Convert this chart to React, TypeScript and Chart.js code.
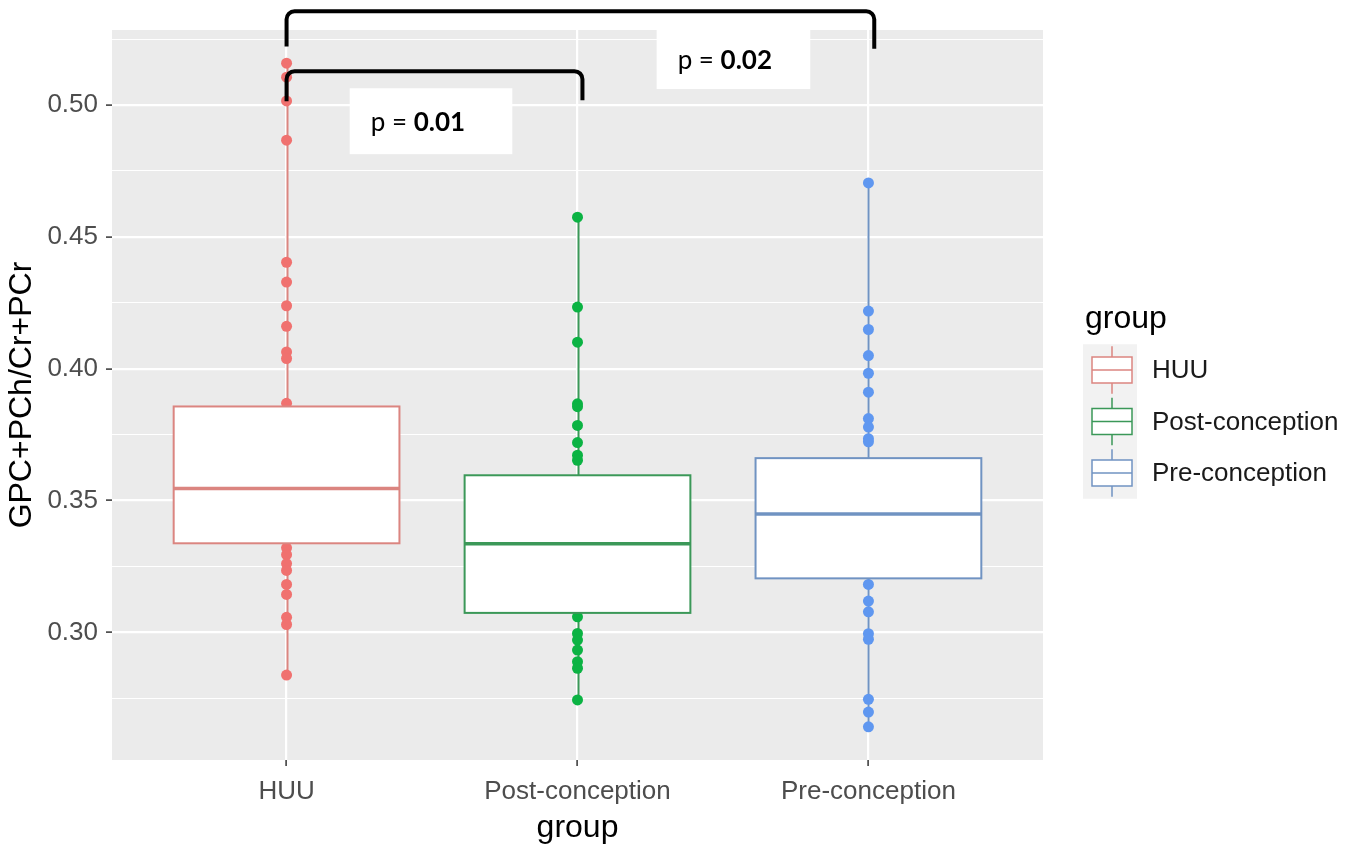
import React, { useEffect, useRef } from 'react';
import { Chart, registerables } from 'chart.js';

Chart.register(...registerables);

const categories = ['HUU', 'Post-conception', 'Pre-conception'];

const huuPoints = [0.5159, 0.5106, 0.5016, 0.4867, 0.4404, 0.4329, 0.4239, 0.4161, 0.4064, 0.4039, 0.3869, 0.3321, 0.3295, 0.3261, 0.3235, 0.3182, 0.3144, 0.3057, 0.3030, 0.2838];
const postPoints = [0.4575, 0.4234, 0.4101, 0.3867, 0.3856, 0.3785, 0.3720, 0.3672, 0.3653, 0.3059, 0.2996, 0.2971, 0.2933, 0.2889, 0.2864, 0.2744];
const prePoints = [0.4705, 0.4219, 0.4149, 0.4050, 0.3983, 0.3911, 0.3811, 0.3779, 0.3735, 0.3723, 0.3182, 0.3119, 0.3078, 0.2995, 0.2974, 0.2746, 0.2698, 0.2642];
const seriesPoints = [huuPoints, postPoints, prePoints];

const q1Values = [0.3338, 0.3074, 0.3205];
const medianValues = [0.3546, 0.3336, 0.3449];
const q3Values = [0.3857, 0.3596, 0.3661];

const yMajorTicks = [0.30, 0.35, 0.40, 0.45, 0.50];
const yMinorTicks = [0.275, 0.325, 0.375, 0.425, 0.475, 0.525];

const pointColors = ['#F0716F', '#0BB343', '#5F97F0'];
const lineColors = ['#DB8580', '#3B9858', '#7093C2'];

// annotations (x in category index units, y in data units)
const brackets = [
  { x1: 0, x2: 2.02, yTop: 0.5356, yLeft: 0.5222, yRight: 0.5214 },
  { x1: 0, x2: 1.017, yTop: 0.5129, yLeft: 0.5015, yRight: 0.5019 },
];
const pLabels = [
  { x1: 1.272, x2: 1.80, yTop: 0.5288, yBottom: 0.5061, prefix: 'p = ', value: '0.02' },
  { x1: 0.217, x2: 0.776, yTop: 0.5064, yBottom: 0.4814, prefix: 'p = ', value: '0.01' },
];

const SANS = "'Liberation Sans', Arial, sans-serif";
const isMajor = (v: number) => yMajorTicks.some((m) => Math.abs(m - v) < 1e-9);

const boxPlugin = {
  id: 'ggBox',
  beforeDraw(chart: any) {
    const { ctx, chartArea: a } = chart;
    ctx.save();
    ctx.fillStyle = '#FFFFFF';
    ctx.fillRect(0, 0, chart.width, chart.height);
    ctx.fillStyle = '#EBEBEB';
    ctx.fillRect(a.left, a.top, a.right - a.left, a.bottom - a.top);
    ctx.restore();
  },
  beforeDatasetsDraw(chart: any) {
    const { ctx, scales: { x, y } } = chart;
    ctx.save();
    categories.forEach((_, i) => {
      const vals = seriesPoints[i];
      const lo = Math.min(...vals);
      const hi = Math.max(...vals);
      const cx = Math.round(x.getPixelForValue(i)) + 0.5;
      ctx.strokeStyle = lineColors[i];
      ctx.lineWidth = 2;
      ctx.beginPath();
      ctx.moveTo(cx, y.getPixelForValue(hi));
      ctx.lineTo(cx, y.getPixelForValue(q3Values[i]));
      ctx.moveTo(cx, y.getPixelForValue(q1Values[i]));
      ctx.lineTo(cx, y.getPixelForValue(lo));
      ctx.stroke();
    });
    ctx.restore();
  },
  afterDatasetsDraw(chart: any) {
    const { ctx, scales: { x, y } } = chart;
    const half = 0.388;
    ctx.save();
    categories.forEach((_, i) => {
      const xl = x.getPixelForValue(i - half);
      const xr = x.getPixelForValue(i + half);
      const yt = y.getPixelForValue(q3Values[i]);
      const yb = y.getPixelForValue(q1Values[i]);
      const ym = y.getPixelForValue(medianValues[i]);
      ctx.fillStyle = '#FFFFFF';
      ctx.fillRect(xl, yt, xr - xl, yb - yt);
      ctx.strokeStyle = lineColors[i];
      ctx.lineWidth = 2;
      ctx.strokeRect(xl, yt, xr - xl, yb - yt);
      ctx.lineWidth = 3.5;
      ctx.beginPath();
      ctx.moveTo(xl, ym);
      ctx.lineTo(xr, ym);
      ctx.stroke();
    });
    ctx.restore();
  },
  afterDraw(chart: any) {
    const { ctx, chartArea: a, scales: { x, y } } = chart;
    ctx.save();
    // brackets
    ctx.strokeStyle = '#000000';
    ctx.lineWidth = 4;
    brackets.forEach((b) => {
      const xl = x.getPixelForValue(b.x1);
      const xr = x.getPixelForValue(b.x2);
      const yt = y.getPixelForValue(b.yTop);
      const r = 8;
      ctx.beginPath();
      ctx.moveTo(xl, y.getPixelForValue(b.yLeft));
      ctx.arcTo(xl, yt, xr, yt, r);
      ctx.arcTo(xr, yt, xr, y.getPixelForValue(b.yRight), r);
      ctx.lineTo(xr, y.getPixelForValue(b.yRight));
      ctx.stroke();
    });
    // p-value labels
    pLabels.forEach((p) => {
      const xl = x.getPixelForValue(p.x1);
      const xr = x.getPixelForValue(p.x2);
      const yt = y.getPixelForValue(p.yTop);
      const yb = y.getPixelForValue(p.yBottom);
      ctx.fillStyle = '#FFFFFF';
      ctx.fillRect(xl, yt, xr - xl, yb - yt);
      ctx.fillStyle = '#000000';
      ctx.textBaseline = 'middle';
      ctx.textAlign = 'left';
      const ty = (yt + yb) / 2 + 1;
      ctx.font = "26px Lato, 'Open Sans', sans-serif";
      ctx.fillText(p.prefix, xl + 21, ty);
      const w = ctx.measureText(p.prefix).width;
      ctx.font = "bold 26px Lato, 'Open Sans', sans-serif";
      ctx.fillText(p.value, xl + 21 + w, ty);
    });
    // legend
    const lx = a.right + 42;
    const rowH = 51.5;
    const firstRow = 370;
    ctx.fillStyle = '#000000';
    ctx.textAlign = 'left';
    ctx.textBaseline = 'alphabetic';
    ctx.font = `32px ${SANS}`;
    ctx.fillText('group', lx, 328);
    ctx.fillStyle = '#F2F2F2';
    ctx.fillRect(lx - 2, firstRow - rowH / 2, 54, rowH * categories.length);
    categories.forEach((c, i) => {
      const cy = firstRow + rowH * i;
      const kx = lx + 7;
      const kw = 40;
      const kcx = kx + kw / 2;
      ctx.strokeStyle = lineColors[i];
      ctx.lineWidth = 1.5;
      ctx.beginPath();
      ctx.moveTo(kcx, cy - rowH / 2 + 2);
      ctx.lineTo(kcx, cy - 13);
      ctx.moveTo(kcx, cy + 13);
      ctx.lineTo(kcx, cy + rowH / 2 - 2);
      ctx.stroke();
      ctx.fillStyle = '#FFFFFF';
      ctx.fillRect(kx, cy - 13, kw, 26);
      ctx.strokeRect(kx, cy - 13, kw, 26);
      ctx.beginPath();
      ctx.moveTo(kx, cy);
      ctx.lineTo(kx + kw, cy);
      ctx.stroke();
      ctx.fillStyle = '#1A1A1A';
      ctx.textBaseline = 'middle';
      ctx.font = `26px ${SANS}`;
      ctx.fillText(c, lx + 67, cy + 1);
    });
    ctx.restore();
  },
};

export default function App() {
  const canvasRef = useRef<HTMLCanvasElement | null>(null);

  useEffect(() => {
    document.body.style.margin = '0';
    const canvas = canvasRef.current;
    if (!canvas) return;
    const chart = new Chart(canvas, {
      type: 'scatter',
      data: {
        datasets: categories.map((c, i) => ({
          label: c,
          data: seriesPoints[i].map((v) => ({ x: i, y: v })),
          backgroundColor: pointColors[i],
          borderWidth: 0,
          pointRadius: 5.5,
          pointHoverRadius: 5.5,
        })),
      },
      options: {
        responsive: false,
        animation: false,
        events: [],
        layout: { padding: { left: 0, top: 30, right: 314, bottom: 0 } },
        plugins: { legend: { display: false }, tooltip: { enabled: false } },
        scales: {
          x: {
            type: 'linear',
            min: -0.6,
            max: 2.6,
            afterBuildTicks: (s: any) => {
              s.ticks = categories.map((_, i) => ({ value: i }));
            },
            afterFit: (s: any) => {
              s.height = 84;
            },
            border: { display: false },
            grid: { color: '#FFFFFF', lineWidth: 2.2, tickLength: 6, tickColor: '#333333', tickWidth: 1.5 },
            ticks: {
              autoSkip: false,
              maxRotation: 0,
              padding: 10,
              color: '#4D4D4D',
              font: { family: SANS, size: 26 },
              callback: (v: any) => categories[Math.round(Number(v))] ?? '',
            },
            title: {
              display: true,
              text: 'group',
              color: '#000000',
              font: { family: SANS, size: 32, lineHeight: 1 },
              padding: { top: 0, bottom: 0 },
            },
          },
          y: {
            min: 0.2516,
            max: 0.5285,
            afterBuildTicks: (s: any) => {
              s.ticks = [...yMinorTicks, ...yMajorTicks].sort((a, b) => a - b).map((v) => ({ value: v }));
            },
            afterFit: (s: any) => {
              s.width = 112;
            },
            border: { display: false },
            grid: {
              color: '#FFFFFF',
              lineWidth: (ctx: any) => (ctx.tick && isMajor(ctx.tick.value) ? 2.2 : 1.1),
              tickLength: 6,
              tickWidth: 1.5,
              tickColor: (ctx: any) => (ctx.tick && isMajor(ctx.tick.value) ? '#333333' : 'rgba(0,0,0,0)'),
            },
            ticks: {
              autoSkip: false,
              padding: 8,
              color: '#4D4D4D',
              font: { family: SANS, size: 26 },
              callback: (v: any) => (isMajor(Number(v)) ? Number(v).toFixed(2) : ''),
            },
            title: {
              display: true,
              text: 'GPC+PCh/Cr+PCr',
              color: '#000000',
              font: { family: SANS, size: 32, lineHeight: 1 },
              padding: { top: 6, bottom: 0 },
            },
          },
        },
      },
      plugins: [boxPlugin],
    });
    return () => chart.destroy();
  }, []);

  return (
    <div style={{ width: 1357, height: 844, overflow: 'hidden' }}>
      <canvas ref={canvasRef} width={1357} height={844} style={{ display: 'block' }} />
    </div>
  );
}
